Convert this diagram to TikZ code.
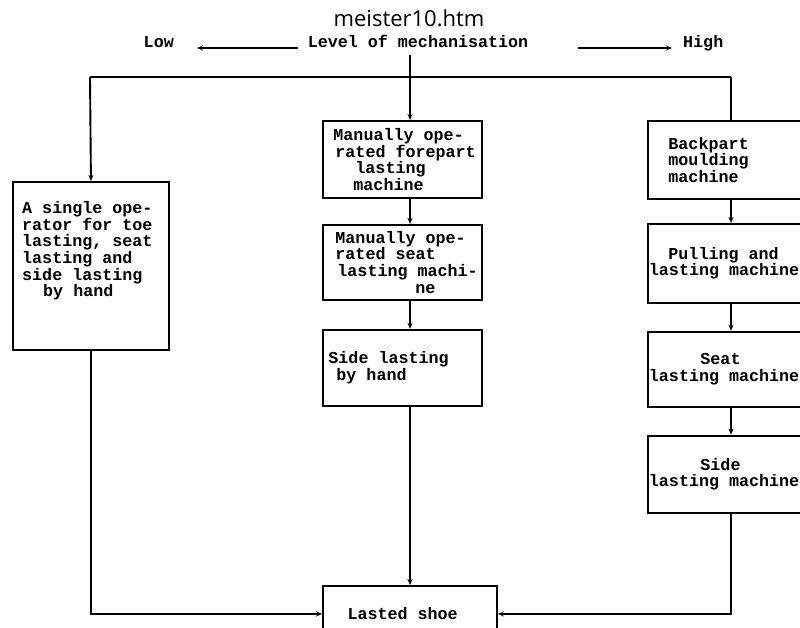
\documentclass[tikz,border=0pt]{standalone}
\usepackage{fontspec}
\setmonofont{Liberation Mono}
\newfontfamily\pagefont{Open Sans}
\usetikzlibrary{arrows.meta,positioning}
\newcommand{\typed}{\ttfamily\bfseries\fontsize{16.7pt}{16.7pt}\selectfont}
\newcommand{\ind}[1]{\hspace*{#1pt}}
\newcommand{\fixsp}{\spaceskip=10.02pt\relax\xspaceskip=10.02pt\relax}
\tikzset{
  box/.style={draw,line width=1.9pt,align=left,inner xsep=3.5pt,inner ysep=2pt,font=\typed,
    execute at begin node=\fixsp},
  midbox/.style={box,text width=152pt},
  sidebox/.style={box,text width=152pt,inner xsep=1pt},
  tag/.style={font=\typed,inner sep=2pt},
  line/.style={line width=1.9pt},
  arrow/.style={line,-{Stealth[length=6pt,width=5pt]}}
}
\begin{document}
\begin{tikzpicture}[x=1pt,y=-1pt]
  \useasboundingbox (0,0) rectangle (800,628);
  \clip (0,0) rectangle (800,628);
  % header
  \node[font={\pagefont\fontsize{22pt}{22pt}\selectfont}] (page) at (409,18) {meister10.htm};
  \node[tag,anchor=base] (lvl) at (418,48) {Level of mechanisation};
  \node[tag,anchor=base east] (low) at (176,48) {Low};
  \node[tag,anchor=base west] (high) at (681,48) {High};
  \draw[arrow,shorten <=8pt,shorten >=21pt] (lvl.base west) -- (low.base east);
  \draw[arrow,shorten <=48pt,shorten >=9pt] (lvl.base east) -- (high.base west);
  \coordinate (lcol) at (90,77);
  \coordinate (mcol) at (410,77);
  \coordinate (rcol) at (731,77);
  % low: one operator
  \node[box,text width=149pt,minimum height=168pt,anchor=north west] (single) at (12,181) {};
  \node[anchor=north west,align=left,font=\typed,inner sep=0pt] (singletext) at (22,201)
    {A single ope-\\rator for toe\\lasting, seat\\lasting and\\side lasting\\\ind{21}by hand};
  % middle: manual machines
  \node[midbox,minimum height=77pt,anchor=north west] (m1) at (322,120)
    {\ind{7}Manually ope-\\\ind{9}rated forepart\\\ind{29}lasting\\\ind{27}machine};
  \node[midbox,minimum height=75pt,below=25pt of m1] (m2)
    {\ind{9}Manually ope-\\\ind{9}rated seat\\\ind{11}lasting machi-\\\ind{89}ne};
  \node[midbox,minimum height=76pt,below=28pt of m2] (m3)
    {\ind{2}Side lasting\\\ind{10}by hand};
  % high: machine line
  \node[sidebox,minimum height=78pt,anchor=north west] (r1) at (647,120)
    {\ind{19.5}Backpart\\\ind{19.5}moulding\\\ind{19.5}machine};
  \node[sidebox,minimum height=79pt,below=23pt of r1] (r2)
    {\ind{19.5}Pulling and\\lasting machine};
  \node[sidebox,minimum height=75pt,below=27pt of r2] (r3)
    {\ind{51.5}Seat\\lasting machine};
  \node[sidebox,minimum height=77pt,below=27pt of r3] (r4)
    {\ind{51.5}Side\\lasting machine};
  \node[box,text width=167pt,minimum height=56pt,anchor=north] (shoe) at (410,585)
    {\ind{21}Lasted shoe};
  % connectors
  \draw[line] (lcol) -- (rcol);
  \draw[arrow] ([yshift=-5pt]lvl.south -| mcol) -- (m1.north -| mcol);
  \draw[arrow] (lcol) -- (single.north);
  \draw[line] (rcol) -- (r1.north -| rcol);
  \draw[arrow] (m1.south -| mcol) -- (m2.north -| mcol);
  \draw[arrow] (m2.south -| mcol) -- (m3.north -| mcol);
  \draw[arrow] (m3.south -| mcol) -- (shoe.north);
  \foreach \a/\b in {r1/r2,r2/r3,r3/r4}
    \draw[arrow] (\a.south -| rcol) -- (\b.north -| rcol);
  \draw[arrow] (single.south) |- (shoe.west);
  \draw[arrow] (r4.south -| rcol) |- (shoe.east);
\end{tikzpicture}
\end{document}
